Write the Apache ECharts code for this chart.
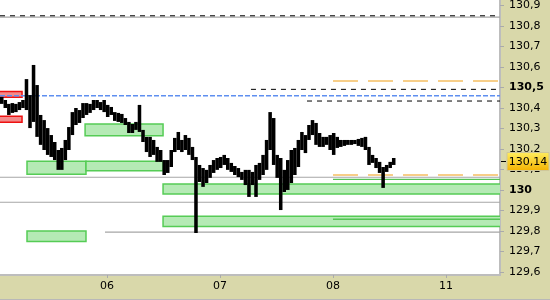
<!DOCTYPE html>
<html><head><meta charset="utf-8">
<script src="https://cdn.jsdelivr.net/npm/echarts@6/dist/echarts.min.js"></script>
<style>html,body{margin:0;padding:0;background:#d9d8aa}#c{width:550px;height:300px}</style>
</head><body><div id="c"></div>
<script>
// ---- axis data ----
const dayTicks = [1, 2, 3, 4];
const dayLabels = ['06', '07', '08', '11'];
const priceTicks = [129.6, 129.7, 129.8, 129.9, 130.0, 130.1, 130.2, 130.3, 130.4, 130.5, 130.6, 130.7, 130.8, 130.9];
const boldTicks = [130.0, 130.5];
const xMin = 0.053, xMax = 4.478;
const yMin = 129.585, yMax = 130.927;

// ---- price bars (time in days, 32 bars per day) ----
const barStart = 0.053;
const barsPerDay = 32;
const highs = [130.454,130.439,130.420,130.424,130.420,130.429,130.439,130.541,130.463,130.610,
  130.512,130.366,130.341,130.302,130.268,130.234,130.195,130.205,130.244,130.307,
  130.380,130.400,130.390,130.424,130.424,130.420,130.439,130.439,130.429,130.439,
  130.415,130.405,130.380,130.376,130.371,130.351,130.332,130.322,130.332,130.415,
  130.293,130.259,130.259,130.244,130.210,130.195,130.146,130.146,130.195,130.254,
  130.283,130.244,130.268,130.254,130.210,130.161,130.122,130.107,130.098,130.122,
  130.146,130.156,130.161,130.171,130.156,130.132,130.117,130.107,130.088,130.098,
  130.098,130.088,130.122,130.132,130.171,130.244,130.380,130.351,130.171,130.156,
  130.098,130.146,130.195,130.205,130.244,130.283,130.268,130.317,130.341,130.327,
  130.278,130.259,130.259,130.268,130.278,130.259,130.244,130.244,130.244,130.244,
  130.244,130.249,130.254,130.259,130.210,130.171,130.156,130.137,130.112,130.122,
  130.137,130.156];
const lows = [130.420,130.400,130.366,130.376,130.380,130.390,130.400,130.390,130.302,130.332,
  130.259,130.220,130.195,130.171,130.161,130.146,130.098,130.098,130.146,130.195,
  130.268,130.317,130.327,130.351,130.366,130.376,130.390,130.400,130.390,130.380,
  130.356,130.366,130.337,130.332,130.327,130.317,130.278,130.278,130.293,130.283,
  130.234,130.185,130.161,130.171,130.137,130.137,130.073,130.083,130.112,130.185,
  130.195,130.185,130.195,130.171,130.146,129.790,130.039,130.015,130.034,130.059,
  130.083,130.098,130.107,130.122,130.098,130.088,130.073,130.063,130.049,130.024,
  129.966,130.024,129.966,130.049,130.073,130.098,130.195,130.122,130.059,129.902,
  129.990,130.000,130.034,130.073,130.112,130.195,130.180,130.244,130.268,130.220,
  130.210,130.210,130.220,130.195,130.171,130.205,130.210,130.215,130.220,130.220,
  130.224,130.215,130.210,130.195,130.122,130.132,130.107,130.083,130.010,130.088,
  130.107,130.122];
const lastPrice = 130.14;

// ---- annotations: [startTime, endTime, level] ----
const blackDashLines = [[xMin, xMax, 130.850], [2.274, xMax, 130.491], [2.770, xMax, 130.434]];
const grayLines = [[xMin, xMax, 130.843], [xMin, xMax, 130.062], [xMin, xMax, 129.940], [0.982, xMax, 129.794]];
const blueLines = [[xMin, xMax, 130.460]];
const orangeLines = [[3.0, xMax, 130.532], [3.0, xMax, 130.073]];
const greenLines = [[3.0, xMax, 130.052], [3.0, xMax, 129.857]];
// zones: [startTime, endTime, top, bottom]
const greenZones = [[0.292, 0.814, 130.140, 130.077], [0.814, 1.496, 130.140, 130.094],
  [0.806, 1.496, 130.322, 130.265], [0.292, 0.814, 129.800, 129.748],
  [1.496, xMax + 0.05, 130.029, 129.980], [1.496, xMax + 0.05, 129.872, 129.822]];
const redZones = [[xMin - 0.05, 0.248, 130.481, 130.452], [xMin - 0.05, 0.248, 130.360, 130.330]];

const FONT = '"DejaVu Sans", Verdana, sans-serif';
const fmt = v => { const s = (Math.round(v * 100) / 100).toString(); return s.replace('.', ','); };

function zoneSeries(data, fill, stroke) {
  return {
    type: 'custom', data: data, clip: true, z: 2,
    encode: { x: [0, 1], y: [2, 3] },
    renderItem: (p, api) => {
      const a = api.coord([api.value(0), api.value(2)]);
      const b = api.coord([api.value(1), api.value(3)]);
      return { type: 'rect', shape: { x: a[0], y: a[1], width: b[0] - a[0], height: b[1] - a[1] },
        style: { fill: fill, stroke: stroke, lineWidth: 1.5 } };
    }
  };
}
function lineSeries(data, stroke, width, dash) {
  return {
    type: 'custom', data: data, clip: true, z: 3,
    encode: { x: [0, 1], y: 2 },
    renderItem: (p, api) => {
      const a = api.coord([api.value(0), api.value(2)]);
      const b = api.coord([api.value(1), api.value(2)]);
      return { type: 'line', shape: { x1: a[0], y1: a[1], x2: b[0], y2: b[1] },
        style: { stroke: stroke, lineWidth: width, lineDash: dash || null } };
    }
  };
}

const barData = highs.map((h, i) => [barStart + i / barsPerDay, h, lows[i]]);

const chart = echarts.init(document.getElementById('c'), null, { renderer: 'canvas' });
chart.setOption({
  animation: false,
  backgroundColor: '#d9d8aa',
  grid: { left: 0, top: 0, right: 50, bottom: 25, show: true, backgroundColor: '#ffffff', borderWidth: 0 },
  xAxis: {
    type: 'value', min: xMin, max: xMax,
    splitLine: { show: false },
    axisLine: { show: true, lineStyle: { color: '#bdbdbd', width: 2 } },
    axisTick: { show: true, customValues: dayTicks, length: 3, lineStyle: { color: '#aaaaaa' } },
    axisLabel: { customValues: dayTicks, margin: 6, color: '#000', fontFamily: FONT, fontSize: 11,
      formatter: v => { const k = dayTicks.findIndex(d => Math.abs(d - v) < 1e-6); return k >= 0 ? dayLabels[k] : ''; } }
  },
  yAxis: {
    type: 'value', position: 'right', min: yMin, max: yMax,
    splitLine: { show: false },
    axisLine: { show: true, lineStyle: { color: '#bdbdbd', width: 2 } },
    axisTick: { show: true, customValues: priceTicks, length: 4, lineStyle: { color: '#aaaaaa' } },
    axisLabel: { customValues: priceTicks, margin: 9, color: '#000', fontFamily: FONT, fontSize: 11,
      formatter: v => { const s = fmt(v); return boldTicks.some(b => Math.abs(b - v) < 1e-6) ? '{b|' + s + '}' : s; },
      rich: { b: { fontWeight: 'bold', fontFamily: FONT, fontSize: 11, color: '#000' } } }
  },
  graphic: [{ type: 'line', shape: { x1: 0, y1: 299.5, x2: 550, y2: 299.5 }, style: { stroke: '#b8b8b8', lineWidth: 1 } }],
  series: [
    zoneSeries(greenZones, '#b5eab5', '#55cc55'),
    zoneSeries(redZones, '#f28a8a', '#ee1111'),
    lineSeries(grayLines, '#a6a6a6', 1.2),
    lineSeries(blackDashLines, '#000000', 1, [5, 5]),
    lineSeries(blueLines, '#5f8ff0', 1.5, [5, 2]),
    lineSeries(orangeLines, '#f5bf62', 1.5, [25, 10]),
    lineSeries(greenLines, '#55c455', 1.3),
    {
      type: 'custom', data: barData, clip: true, z: 5,
      encode: { x: 0, y: [1, 2] },
      renderItem: (p, api) => {
        const a = api.coord([api.value(0), api.value(1)]);
        const b = api.coord([api.value(0) + 1 / barsPerDay, api.value(2)]);
        return { type: 'rect', shape: { x: a[0], y: a[1], width: b[0] - a[0], height: Math.max(b[1] - a[1], 2) },
          style: { fill: '#000' } };
      }
    },
    {
      type: 'custom', data: [[xMax, lastPrice]], clip: false, z: 20,
      encode: { x: 0, y: 1 },
      renderItem: (p, api) => {
        const pt = api.coord([api.value(0), api.value(1)]);
        const y = Math.round(pt[1]) + 0.5;
        return { type: 'group', children: [
          { type: 'line', shape: { x1: pt[0] + 1, y1: y, x2: pt[0] + 6, y2: y }, style: { stroke: '#000', lineWidth: 1 } },
          { type: 'rect', shape: { x: pt[0] + 7, y: y - 9, width: 42, height: 18 },
            style: { fill: new echarts.graphic.LinearGradient(0, 0, 0, 1, [{ offset: 0, color: '#ffee60' }, { offset: 1, color: '#f4b200' }]),
              stroke: '#cfc79a', lineWidth: 1 } },
          { type: 'text', style: { text: fmt(api.value(1)), x: pt[0] + 28, y: y + 0.5, align: 'center', verticalAlign: 'middle',
              textAlign: 'center', textVerticalAlign: 'middle', font: '11px ' + FONT, fill: '#000' } }
        ] };
      }
    }
  ]
});
</script></body></html>
